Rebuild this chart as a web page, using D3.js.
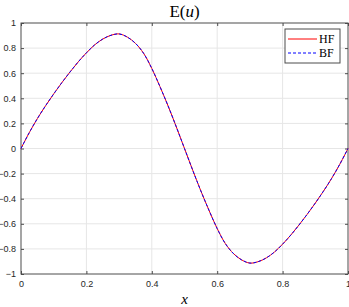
<!DOCTYPE html>
<html>
<head>
<meta charset="utf-8">
<script src="https://cdn.jsdelivr.net/npm/d3@7"></script>
<style>
	body { margin: 0; background: #fff; }
	.tick text { font-family: "Liberation Sans", Arial, sans-serif; font-size: 9px; fill: #262626; }
</style>
</head>
<body>
<svg class="chart"></svg>
<script>

// Data:

var xs = [0, 0.025, 0.05, 0.075, 0.1, 0.125, 0.15, 0.175, 0.2, 0.225, 0.25, 0.275, 0.3, 0.325, 0.35, 0.375, 0.4, 0.425, 0.45, 0.475, 0.5,
	0.525, 0.55, 0.575, 0.6, 0.625, 0.65, 0.675, 0.7, 0.725, 0.75, 0.775, 0.8, 0.825, 0.85, 0.875, 0.9, 0.925, 0.95, 0.975, 1];
var hf = [0, 0.125, 0.238, 0.34, 0.435, 0.525, 0.61, 0.69, 0.762, 0.825, 0.872, 0.902, 0.913, 0.888, 0.838, 0.758, 0.638, 0.493, 0.338, 0.172, 0,
	-0.172, -0.338, -0.493, -0.638, -0.758, -0.838, -0.888, -0.913, -0.902, -0.872, -0.825, -0.762, -0.69, -0.61, -0.525, -0.435, -0.34, -0.238, -0.125, 0];
var bf = [0, 0.125, 0.238, 0.34, 0.435, 0.525, 0.61, 0.69, 0.762, 0.825, 0.872, 0.902, 0.913, 0.888, 0.838, 0.758, 0.638, 0.493, 0.338, 0.172, 0,
	-0.172, -0.338, -0.493, -0.638, -0.758, -0.838, -0.888, -0.913, -0.902, -0.872, -0.825, -0.762, -0.69, -0.61, -0.525, -0.435, -0.34, -0.238, -0.125, 0];
var xTicks = [0, 0.2, 0.4, 0.6, 0.8, 1];
var yTicks = [-1, -0.8, -0.6, -0.4, -0.2, 0, 0.2, 0.4, 0.6, 0.8, 1];
var seriesNames = ["HF", "BF"];

// Basic dimensions:

var W = 349, H = 307;
var margin = {top: 23, bottom: 33, left: 21, right: 1};
var width = W - margin.left - margin.right,
	height = H - margin.top - margin.bottom,
	tickLen = 3,
	axisColor = "#4d4d4d";

var chart = d3.select(".chart")
	.attr("width", W)
	.attr("height", H);

var g = chart.append("g")
	.attr("transform", "translate(" + margin.left + "," + margin.top + ")");

var x = d3.scaleLinear().domain([0, 1]).range([0, width]);
var y = d3.scaleLinear().domain([-1, 1]).range([height, 0]);

// Grid lines:

g.append("g").selectAll("line")
	.data(xTicks.slice(1, -1))
	.enter().append("line")
	.attr("x1", function(d) { return x(d); })
	.attr("x2", function(d) { return x(d); })
	.attr("y1", 0)
	.attr("y2", height)
	.style("stroke", "#e6e6e6")
	.style("stroke-width", 1);

g.append("g").selectAll("line")
	.data(yTicks.slice(1, -1))
	.enter().append("line")
	.attr("x1", 0)
	.attr("x2", width)
	.attr("y1", function(d) { return y(d); })
	.attr("y2", function(d) { return y(d); })
	.style("stroke", "#e6e6e6")
	.style("stroke-width", 1);

// Axes (ticks pointing inwards, box on):

function styleAxis(sel) {
	sel.select(".domain").remove();
	sel.selectAll(".tick line").style("stroke", axisColor);
}

g.append("g")
	.attr("transform", "translate(0," + height + ")")
	.call(d3.axisBottom(x).tickValues(xTicks).tickSizeInner(-tickLen).tickSizeOuter(0).tickPadding(7).tickFormat(d3.format("")))
	.call(styleAxis);

g.append("g")
	.call(d3.axisTop(x).tickValues(xTicks).tickSizeInner(-tickLen).tickSizeOuter(0).tickFormat(""))
	.call(styleAxis);

g.append("g")
	.call(d3.axisLeft(y).tickValues(yTicks).tickSizeInner(-tickLen).tickSizeOuter(0).tickPadding(5).tickFormat(d3.format("")))
	.call(styleAxis);

g.append("g")
	.attr("transform", "translate(" + width + ",0)")
	.call(d3.axisRight(y).tickValues(yTicks).tickSizeInner(-tickLen).tickSizeOuter(0).tickFormat(""))
	.call(styleAxis);

g.append("rect")
	.attr("width", width)
	.attr("height", height)
	.style("fill", "none")
	.style("stroke", axisColor)
	.style("stroke-width", 1);

// Curves:

var line = d3.line()
	.x(function(d) { return x(d[0]); })
	.y(function(d) { return y(d[1]); })
	.curve(d3.curveCatmullRom);

g.append("path")
	.datum(xs.map(function(d, i) { return [d, hf[i]]; }))
	.attr("d", line)
	.style("fill", "none")
	.style("stroke", "#ff0000")
	.style("stroke-width", 1);

g.append("path")
	.datum(xs.map(function(d, i) { return [d, bf[i]]; }))
	.attr("d", line)
	.style("fill", "none")
	.style("stroke", "#0000ff")
	.style("stroke-width", 1)
	.style("stroke-dasharray", "3,2");

// Legend:

var legend = chart.append("g")
	.attr("transform", "translate(285,29)");

legend.append("rect")
	.attr("width", 55)
	.attr("height", 34)
	.style("fill", "#fff")
	.style("stroke", axisColor)
	.style("stroke-width", 1);

seriesNames.forEach(function(name, i) {
	legend.append("line")
		.attr("x1", 3)
		.attr("x2", 32)
		.attr("y1", 10 + i * 14)
		.attr("y2", 10 + i * 14)
		.style("stroke", i == 0 ? "#ff0000" : "#0000ff")
		.style("stroke-width", 1)
		.style("stroke-dasharray", i == 0 ? null : "3,2");
	legend.append("text")
		.attr("x", 34)
		.attr("y", 10 + i * 14)
		.attr("dy", "0.35em")
		.style("font-family", "'Liberation Serif', 'DejaVu Serif', serif")
		.style("font-size", "12px")
		.style("fill", "#000")
		.text(name);
});

// Title and axis label:

var title = chart.append("text")
	.attr("x", margin.left + width / 2)
	.attr("y", 17)
	.style("text-anchor", "middle")
	.style("font-family", "'Liberation Serif', 'DejaVu Serif', serif")
	.style("font-size", "17px")
	.style("fill", "#000");
title.append("tspan").text("E(");
title.append("tspan").style("font-style", "italic").text("u");
title.append("tspan").text(")");

chart.append("text")
	.attr("x", margin.left + width / 2)
	.attr("y", 304)
	.style("text-anchor", "middle")
	.style("font-family", "'Liberation Serif', 'DejaVu Serif', serif")
	.style("font-style", "italic")
	.style("font-size", "15px")
	.style("fill", "#000")
	.text("x");

</script>
</body>
</html>
